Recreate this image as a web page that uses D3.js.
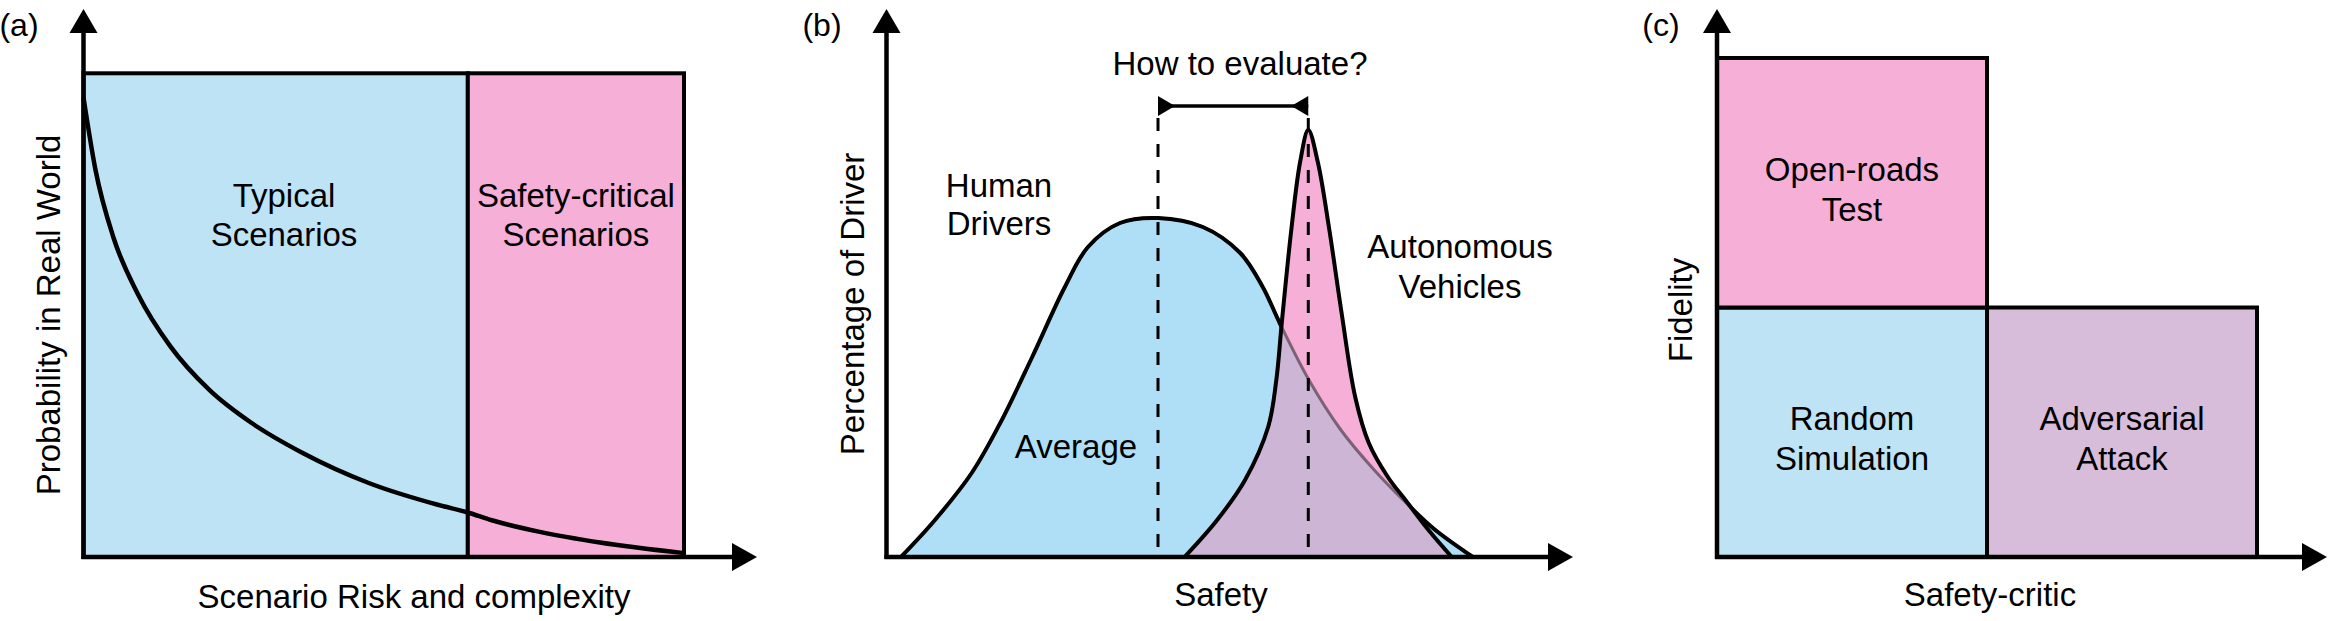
<!DOCTYPE html>
<meta charset="utf-8">
<style>
	body { margin: 0; background: #fff; }
	text { font-family: "Liberation Sans", Arial, sans-serif; font-size: 33px; fill: #000; }
</style>
<svg width="2339" height="621"></svg>
<script src="https://d3js.org/d3.v7.min.js"></script>
<script>
	// ---- (a) probability vs scenario risk ----
	var aRegionNames = [['Typical', 'Scenarios'], ['Safety-critical', 'Scenarios']]
	var aRegionBounds = [0, 64, 100]
	var aRegionColors = ['#BEE3F5', '#F6AFD6']
	var aCurveX = [0, 2, 5, 9, 14.5, 21, 28, 36.5, 47.5, 59, 64, 68, 76, 86, 100]
	var aCurveY = [95, 80, 66, 54.5, 43.5, 34.5, 27.7, 21.5, 15.3, 10.8, 9.2, 7.6, 5.2, 3, 0.8]

	// ---- (b) distribution of safety ----
	var bHumanX = [2.2, 7.2, 12.6, 16.8, 21.5, 26.3, 29.7, 34.4, 40, 46.6, 52.1, 55.4, 57.9, 62.2, 66.9, 71.8, 76.5, 80.6, 86.3]
	var bHumanY = [0, 7.4, 16.8, 26.8, 40, 54, 62, 66.8, 67.8, 66, 60.8, 54, 46.8, 35.4, 25.4, 17.4, 10.8, 5.6, 0]
	var bAutoX = [43.9, 48.7, 52.8, 56.2, 57.4, 58.2, 59.6, 60.9, 62.1, 63.5, 65.2, 67, 69, 71, 73.8, 76.5, 79.9, 83.2]
	var bAutoY = [0, 7.4, 15.4, 26, 35.4, 46.8, 65.4, 79, 85.4, 79, 65.4, 48.8, 32, 22.8, 16, 11.2, 5.2, 0]
	var bMeans = [40, 62.1]

	// ---- (c) fidelity vs safety-critic ----
	var cNames = [['Random', 'Simulation'], ['Open-roads', 'Test'], ['Adversarial', 'Attack']]
	var cCol = [0, 0, 1]
	var cRow = [0, 1, 0]
	var cColors = ['#BEE3F5', '#F6AFD6', '#D8BDDA']

	var svg = d3.select('svg')
	var axisW = 4.5, boxW = 4

	function arrows(g, x0, yBase, yTop, xTip) {
		g.append('line').attr('x1', x0).attr('x2', x0).attr('y1', yBase + 2).attr('y2', yTop + 22)
			.attr('stroke', '#000').attr('stroke-width', axisW)
		g.append('path').attr('d', d3.line()([[x0 - 14, yTop + 24], [x0 + 14, yTop + 24], [x0, yTop]]) + 'Z')
			.attr('fill', '#000')
		g.append('line').attr('x1', x0 - 2).attr('x2', xTip - 22).attr('y1', yBase).attr('y2', yBase)
			.attr('stroke', '#000').attr('stroke-width', axisW)
		g.append('path').attr('d', d3.line()([[xTip - 25, yBase - 14], [xTip - 25, yBase + 14], [xTip, yBase]]) + 'Z')
			.attr('fill', '#000')
	}

	function lines(g, arr, x, y, gap) {
		var t = g.append('text').attr('text-anchor', 'middle').attr('x', x).attr('y', y)
		arr.forEach(function (s, i) {
			t.append('tspan').attr('x', x).attr('dy', i ? gap : 0).text(s)
		})
		return t
	}

	// ================= panel (a) =================
	var gA = svg.append('g')
	var xA = d3.scaleLinear().domain([0, 100]).range([83.5, 684])
	var yA = d3.scaleLinear().domain([0, 100]).range([557, 73.3])

	gA.selectAll('.region')
		.data(aRegionColors)
		.enter()
		.append('rect')
		.attr('class', 'region')
		.attr('x', function (d, i) { return xA(aRegionBounds[i]) })
		.attr('width', function (d, i) { return xA(aRegionBounds[i + 1]) - xA(aRegionBounds[i]) })
		.attr('y', yA(100))
		.attr('height', yA(0) - yA(100))
		.attr('fill', function (d) { return d })
		.attr('stroke', '#000')
		.attr('stroke-width', boxW)

	var aPts = aCurveX.map(function (v, i) { return [v, aCurveY[i]] })
	gA.append('path')
		.attr('d', d3.line().x(function (d) { return xA(d[0]) }).y(function (d) { return yA(d[1]) })
			.curve(d3.curveMonotoneX)(aPts))
		.attr('fill', 'none')
		.attr('stroke', '#000')
		.attr('stroke-width', 4.5)

	arrows(gA, xA(0), yA(0), 9, 757)

	lines(gA, aRegionNames[0], 284, 206.7, 39)
	lines(gA, aRegionNames[1], xA(82), 206.7, 39)
	gA.append('text').attr('text-anchor', 'middle').attr('x', 414).attr('y', 608).text('Scenario Risk and complexity')
	gA.append('text').attr('text-anchor', 'middle').attr('transform', 'translate(60,315) rotate(-90)').text('Probability in Real World')
	gA.append('text').attr('text-anchor', 'middle').attr('x', 19).attr('y', 36).style('font-size', '32px').text('(a)')

	// ================= panel (b) =================
	var gB = svg.append('g')
	var xB = d3.scaleLinear().domain([0, 100]).range([886, 1566])
	var yB = d3.scaleLinear().domain([0, 100]).range([557, 57])

	var human = bHumanX.map(function (v, i) { return [v, bHumanY[i]] })
	var auto = bAutoX.map(function (v, i) { return [v, bAutoY[i]] })
	var area = d3.area()
		.x(function (d) { return xB(d[0]) })
		.y0(yB(0))
		.y1(function (d) { return yB(d[1]) })
		.curve(d3.curveCatmullRom.alpha(0.5))
	var outline = d3.line()
		.x(function (d) { return xB(d[0]) })
		.y(function (d) { return yB(d[1]) })
		.curve(d3.curveCatmullRom.alpha(0.5))

	svg.append('defs').append('clipPath').attr('id', 'humanClip')
		.append('path').attr('d', area(human))

	gB.append('path').attr('d', area(human)).attr('fill', '#AEDFF7')
	gB.append('path').attr('d', outline(human)).attr('fill', 'none').attr('stroke', '#000').attr('stroke-width', 4)
	gB.append('path').attr('d', area(auto)).attr('fill', '#F6AFD6')
	gB.append('path').attr('d', area(auto)).attr('fill', '#CDB5D5').attr('clip-path', 'url(#humanClip)')
	// human outline seen through the AV fill
	gB.append('path').attr('d', outline(human)).attr('fill', 'none').attr('stroke', '#000')
		.attr('stroke-opacity', 0.45).attr('stroke-width', 3)
	gB.append('path').attr('d', outline(auto)).attr('fill', 'none').attr('stroke', '#000').attr('stroke-width', 4)

	// mean markers
	gB.selectAll('.mean')
		.data(bMeans)
		.enter()
		.append('line')
		.attr('class', 'mean')
		.attr('x1', function (d) { return xB(d) })
		.attr('x2', function (d) { return xB(d) })
		.attr('y1', 118)
		.attr('y2', yB(0))
		.attr('stroke', '#000')
		.attr('stroke-width', 3)
		.attr('stroke-dasharray', '13,13')

	var yArr = 106
	gB.append('line').attr('x1', xB(bMeans[0])).attr('x2', xB(bMeans[1])).attr('y1', yArr).attr('y2', yArr)
		.attr('stroke', '#000').attr('stroke-width', 3.5)
	gB.append('path').attr('d', d3.line()([[xB(bMeans[0]), yArr - 10], [xB(bMeans[0]), yArr + 10], [xB(bMeans[0]) + 17, yArr]]) + 'Z')
	gB.append('path').attr('d', d3.line()([[xB(bMeans[1]), yArr - 10], [xB(bMeans[1]), yArr + 10], [xB(bMeans[1]) - 17, yArr]]) + 'Z')

	arrows(gB, xB(0) + 0.5, yB(0), 9, 1573)

	gB.append('text').attr('text-anchor', 'middle').attr('x', 1240).attr('y', 75).text('How to evaluate?')
	lines(gB, ['Human', 'Drivers'], 999, 196.7, 38.5)
	lines(gB, ['Autonomous', 'Vehicles'], 1460, 258, 40)
	gB.append('text').attr('text-anchor', 'middle').attr('x', 1076).attr('y', 458).text('Average')
	gB.append('text').attr('text-anchor', 'middle').attr('x', 1221).attr('y', 606).text('Safety')
	gB.append('text').attr('text-anchor', 'middle').attr('transform', 'translate(864,304) rotate(-90)').text('Percentage of Driver')
	gB.append('text').attr('text-anchor', 'middle').attr('x', 822).attr('y', 36).style('font-size', '32px').text('(b)')

	// ================= panel (c) =================
	var gC = svg.append('g')
	var xC = d3.scaleLinear().domain([0, 2]).range([1717, 2257])
	var yC = d3.scaleLinear().domain([0, 2]).range([557, 58])

	gC.selectAll('.cell')
		.data(cNames)
		.enter()
		.append('rect')
		.attr('class', 'cell')
		.attr('x', function (d, i) { return xC(cCol[i]) })
		.attr('y', function (d, i) { return yC(cRow[i] + 1) })
		.attr('width', xC(1) - xC(0))
		.attr('height', yC(0) - yC(1))
		.attr('fill', function (d, i) { return cColors[i] })
		.attr('stroke', '#000')
		.attr('stroke-width', boxW)

	cNames.forEach(function (d, i) {
		lines(gC, d, xC(cCol[i] + 0.5), yC(cRow[i] + 0.5) - 2, 40)
	})

	arrows(gC, xC(0), yC(0), 9, 2327)

	gC.append('text').attr('text-anchor', 'middle').attr('x', 1990).attr('y', 606).text('Safety-critic')
	gC.append('text').attr('text-anchor', 'middle').attr('transform', 'translate(1692,310) rotate(-90)').text('Fidelity')
	gC.append('text').attr('text-anchor', 'middle').attr('x', 1661).attr('y', 36).style('font-size', '32px').text('(c)')
</script>
